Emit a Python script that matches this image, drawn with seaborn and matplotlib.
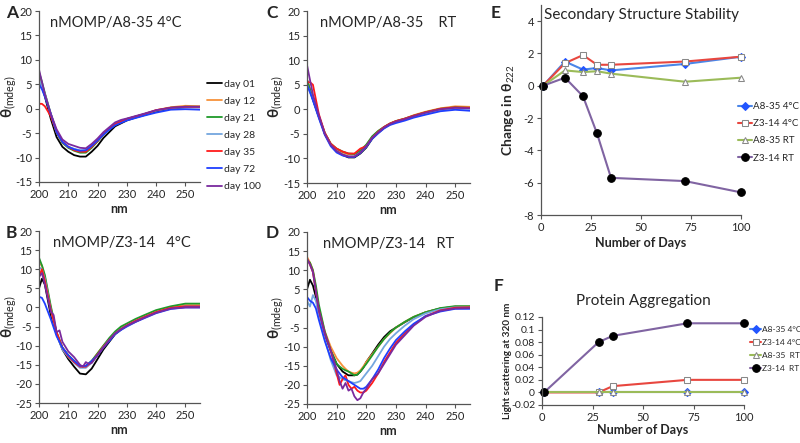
import matplotlib
matplotlib.use("Agg")
import matplotlib.pyplot as plt
import seaborn as sns

# wavelength grids (nm)
nm = [200, 201, 202, 204, 206, 208, 210, 212, 214, 216, 218, 220, 222, 224, 226, 228, 230, 233, 236, 240, 245, 250, 255]
nm_fine = [200, 201, 202, 203, 204, 206, 208, 210, 211, 212, 213, 214, 215, 216, 217, 218, 219, 220, 222, 224, 226,
           228, 230, 233, 236, 240, 245, 250, 255]
nm_b100 = [200, 201, 202, 204, 205, 206, 207, 208, 210, 212, 214, 215, 216, 217, 218, 220, 222, 224, 226, 228, 230,
           233, 236, 240, 245, 250, 255]

days = ["day 01", "day 12", "day 21", "day 28", "day 35", "day 72", "day 100"]
day_colors = ["#000000", "#f7923a", "#1f9a2a", "#74a6de", "#ff1a1a", "#1f3fff", "#7a2a9e"]

# A: nMOMP/A8-35 4°C
a_day01 = [6, 4.5, 2.5, -2, -5.8, -7.8, -8.8, -9.5, -9.8, -9.8, -8.8, -7.6, -6, -4.8, -3.6, -3, -2.4, -1.8, -1.3, -0.6, 0, 0.3, 0.3]
a_day12 = [7, 5, 3, -1.2, -4.8, -6.8, -7.8, -8.3, -8.7, -8.7, -7.8, -6.6, -5.2, -4.2, -3.2, -2.6, -2.1, -1.6, -1.1, -0.3, 0.3, 0.6, 0.5]
a_day21 = [7.5, 5.5, 3.2, -1, -4.8, -7, -8, -8.6, -9, -9, -8, -6.7, -5.3, -4.2, -3.2, -2.6, -2.1, -1.6, -1.1, -0.4, 0.2, 0.4, 0.4]
a_day28 = [6, 4.5, 3, -1, -4.5, -6.8, -7.8, -8.2, -8.5, -8.5, -7.6, -6.5, -5.2, -4.1, -3.1, -2.6, -2.1, -1.6, -1.1, -0.4, 0.1, 0.3, 0.3]
a_day35 = [1, 1, 0.5, -1.5, -4.8, -6.8, -7.8, -8.5, -8.8, -8.8, -7.8, -6.6, -5.2, -4.1, -3.1, -2.6, -2.1, -1.6, -1.1, -0.3, 0.2, 0.4, 0.4]
a_day72 = [5, 4, 2.5, -1, -4.8, -6.8, -7.8, -8.3, -8.6, -8.5, -7.6, -6.5, -5.3, -4.3, -3.4, -2.9, -2.4, -1.9, -1.4, -0.8, -0.2, -0.1, -0.2]
a_day100 = [8, 5.5, 3, -1, -4.2, -6.3, -7.2, -7.6, -8, -8.1, -7.2, -6.1, -4.8, -3.8, -2.8, -2.3, -2, -1.5, -1, -0.3, 0.2, 0.4, 0.4]

# B: nMOMP/Z3-14 4°C
b_day01 = [5, 7.5, 6, -2, -7, -11, -13.5, -15.5, -17.3, -17.5, -16, -13.5, -11, -9, -7, -5.8, -4.8, -3.7, -2.6, -1.2, -0.2, 0.3, 0.3]
b_day12 = [11.5, 11, 8, 0, -6.5, -10.5, -12.5, -14, -15.3, -15.3, -14, -12, -10, -8.3, -6.7, -5.5, -4.5, -3.3, -2.3, -1, 0, 0.6, 0.6]
b_day21 = [13, 11, 8.5, 0.5, -6.5, -10.5, -12.5, -14, -15.3, -15.3, -14, -12, -10, -8, -6.3, -5, -4.2, -3, -2, -0.7, 0.3, 1, 1]
b_day28 = [10.5, 10, 7.5, -0.5, -7, -11, -13, -14.5, -15.8, -15.8, -14.5, -12.5, -10.3, -8.5, -6.8, -5.7, -4.7, -3.5, -2.5, -1.2, -0.2, 0.3, 0.3]
b_day35 = [8, 10, 7, -0.5, -6.5, -10.5, -12.8, -14.3, -15.5, -15.5, -14.3, -12.3, -10.3, -8.5, -6.8, -5.7, -4.7, -3.5, -2.5, -1.2, -0.1, 0.3, 0.3]
b_day72 = [2.8, 2.5, 1, -3, -7.5, -10.5, -12.5, -14, -15.3, -15.3, -14, -12.5, -10.5, -8.8, -7, -5.9, -5, -3.8, -2.8, -1.5, -0.4, 0, 0]
b_day100 = [8, 9, 6, -1, -2, -6.5, -6, -9, -11.5, -13, -15, -15.5, -14.3, -14.8, -14.5, -12.5, -10.5, -8.5, -6.8, -5.7, -4.8,
            -3.7, -2.7, -1.4, -0.3, 0, 0]

# C: nMOMP/A8-35 RT
c_day01 = [6, 4, 2, -1.5, -5, -7.2, -8.5, -9.3, -9.8, -9.8, -9, -7.8, -6, -4.8, -3.8, -3, -2.5, -2, -1.4, -0.8, -0.1, 0.3, 0.3]
c_day12 = [6, 4, 2, -1.5, -4.8, -7, -8.2, -8.8, -9.2, -9.2, -8.5, -7.3, -5.6, -4.5, -3.6, -2.9, -2.4, -1.9, -1.2, -0.5, 0.2, 0.6, 0.5]
c_day21 = [6, 4, 2, -1.5, -4.8, -7, -8, -8.6, -9, -9.1, -8.4, -7.2, -5.5, -4.4, -3.6, -2.9, -2.4, -1.9, -1.3, -0.6, 0.1, 0.4, 0.3]
c_day28 = [5, 3.5, 2, -1.5, -5, -7.2, -8.5, -9.2, -9.6, -9.6, -8.8, -7.6, -5.9, -4.8, -3.8, -3.1, -2.6, -2.1, -1.5, -0.9, -0.2, 0.1, 0.1]
c_day35 = [5.5, 5.5, 5, -1, -4.8, -7, -8, -8.6, -9, -9, -8, -7.5, -5.8, -4.6, -3.6, -2.9, -2.4, -1.9, -1.3, -0.6, 0.1, 0.4, 0.3]
c_day72 = [5, 3.5, 1.8, -1.8, -5.2, -7.5, -8.8, -9.4, -9.7, -9.7, -8.9, -7.6, -6, -4.9, -3.9, -3.2, -2.8, -2.3, -1.7, -1.1, -0.4, -0.1, -0.3]
c_day100 = [9, 6, 3, -1.2, -5, -7.2, -8.5, -9.2, -9.6, -9.6, -8.8, -7.5, -5.8, -4.7, -3.7, -3, -2.5, -2, -1.4, -0.7, 0, 0.3, 0.2]

# D: nMOMP/Z3-14 RT (fine grid)
d_day01 = [5, 7.5, 6, 3, -1, -7, -11, -14.5, -15.5, -16.5, -17, -17.5, -17.5, -17.5, -17.3, -16.5, -15.5, -14, -11.8, -9.5,
           -7.5, -6, -5, -3.6, -2.3, -1, 0, 0.4, 0.4]
d_day12 = [13.5, 12, 10, 5, 0, -6, -10, -13, -14, -15, -15.8, -16.5, -16.8, -17, -16.8, -16.2, -15.2, -14, -12, -10, -8,
           -6.5, -5, -3.5, -2.2, -1, 0, 0.5, 0.5]
d_day21 = [12.5, 12, 10, 6, 1, -6, -11, -14.5, -15.2, -15.8, -16.2, -16.5, -17, -17.5, -17.3, -16.5, -15.5, -14.5, -12.3,
           -10, -8, -6.3, -5, -3.5, -2.2, -1, 0.1, 0.6, 0.6]
d_day28 = [2, 0.5, 3.5, 2, -2, -8, -13.5, -17.5, -18, -18.5, -18.8, -19, -19.3, -19.5, -19.3, -19, -18, -17, -15, -12.5,
           -10, -8, -6.5, -4.5, -2.8, -1.3, -0.2, 0.3, 0.3]
d_day35 = [13, 11.5, 9.5, 4.5, -0.5, -6.5, -11, -17, -20, -18.5, -17.5, -20, -21, -20.5, -21.5, -22, -22, -21.5, -19.5,
           -17, -14, -11.5, -9, -6.5, -4.3, -2, -0.5, 0.2, 0.3]
d_day72 = [3, 2, 1.5, 0, -3, -8.5, -13, -16, -17, -18, -18.5, -19, -19.5, -20, -20.5, -21, -21, -20.5, -18.5, -16, -13,
           -10.5, -8.3, -6, -4, -2, -0.8, -0.1, -0.1]
d_day100 = [13, 11.5, 9.5, 4.5, -0.5, -6.5, -11, -16, -19, -21, -19.5, -21.5, -21, -23, -24, -23.5, -22, -21, -18.5, -17,
            -14.5, -12, -9.5, -7, -4.5, -2.2, -0.6, 0, 0.1]

# E: change in theta222
e_days = [1, 12, 21, 28, 35, 72, 100]
e_a835_4c = [0, 1.5, 1.0, 1.1, 0.95, 1.35, 1.8]
e_z314_4c = [0, 1.4, 1.9, 1.3, 1.3, 1.5, 1.8]
e_a835_rt = [0, 0.95, 0.85, 0.9, 0.75, 0.25, 0.5]
e_z314_rt = [0, 0.5, -0.65, -2.95, -5.7, -5.9, -6.6]

# F: light scattering at 320 nm
f_days = [1, 28, 35, 72, 100]
f_a835_4c = [0, 0, 0, 0, 0]
f_z314_4c = [0, 0, 0.01, 0.02, 0.02]
f_a835_rt = [0, 0, 0, 0, 0]
f_z314_rt = [0, 0.08, 0.09, 0.11, 0.11]

sns.set_style("ticks")
plt.rcParams["font.family"] = ["Lato", "DejaVu Sans"]
plt.rcParams["mathtext.fontset"] = "custom"
plt.rcParams["mathtext.rm"] = "Lato"
plt.rcParams["mathtext.bf"] = "Lato:bold"
plt.rcParams["axes.unicode_minus"] = False

fig = plt.figure(figsize=(8, 4.43), dpi=100)


def px_axes(left, top, right, bottom):
    W, H = 800, 443
    return fig.add_axes([left / W, 1 - bottom / H, (right - left) / W, (bottom - top) / H])


def style_axes(ax):
    sns.despine(ax=ax)
    ax.tick_params(axis="both", labelsize=8, length=3, width=0.8, pad=2, color="#555555")
    for s in ("left", "bottom"):
        ax.spines[s].set_color("#555555")
        ax.spines[s].set_linewidth(0.9)


def cd_panel(ax, curves, ylim, title, title_x, label_x):
    for (x, y), lab, col in zip(curves, days, day_colors):
        sns.lineplot(x=x, y=y, ax=ax, color=col, lw=1.3, label=lab, sort=False, estimator=None, legend=False)
    ax.set_xlim(200, 255)
    ax.set_ylim(*ylim)
    ax.set_xticks([200, 210, 220, 230, 240, 250])
    ax.set_yticks(range(ylim[0], ylim[1] + 1, 5))
    style_axes(ax)
    ax.set_xlabel("nm", fontsize=9, fontweight="bold", labelpad=2)
    ax.set_ylabel(r"θ$_{\rm (mdeg)}$", fontsize=11, fontweight="bold")
    ax.yaxis.set_label_coords(label_x, 0.5)
    ax.text(title_x, 0.97, title, transform=ax.transAxes, fontsize=10.5, va="top", ha="left")


axA = px_axes(39, 11, 200, 182)
cd_panel(axA, [(nm, a_day01), (nm, a_day12), (nm, a_day21), (nm, a_day28), (nm, a_day35), (nm, a_day72),
               (nm, a_day100)], (-15, 20), "nMOMP/A8-35 4°C", 0.07, -0.125)
h, l = axA.get_legend_handles_labels()
axA.legend(h, l, loc="upper left", bbox_to_anchor=(1.02, 0.625), frameon=False, fontsize=7.5,
           handlelength=1.4, handletextpad=0.2, labelspacing=0.75, borderaxespad=0)

axB = px_axes(39, 231, 200, 403)
cd_panel(axB, [(nm, b_day01), (nm, b_day12), (nm, b_day21), (nm, b_day28), (nm, b_day35), (nm, b_day72),
               (nm_b100, b_day100)], (-25, 20), "nMOMP/Z3-14   4°C", 0.09, -0.125)

axC = px_axes(307, 11, 470, 183)
cd_panel(axC, [(nm, c_day01), (nm, c_day12), (nm, c_day21), (nm, c_day28), (nm, c_day35), (nm, c_day72),
               (nm, c_day100)], (-15, 20), "nMOMP/A8-35    RT", 0.08, -0.13)

axD = px_axes(307, 232, 470, 404)
cd_panel(axD, [(nm_fine, d_day01), (nm_fine, d_day12), (nm_fine, d_day21), (nm_fine, d_day28),
               (nm_fine, d_day35), (nm_fine, d_day72), (nm_fine, d_day100)], (-25, 20), "nMOMP/Z3-14   RT", 0.1, -0.13)

series_style = [
    ("A8-35 4°C", "#4a86e8", dict(marker="D", markersize=4.5, markerfacecolor="#2255ff", markeredgecolor="#2255ff")),
    ("Z3-14 4°C", "#e8473f", dict(marker="s", markersize=5, markerfacecolor="white", markeredgecolor="#888888")),
    ("A8-35 RT", "#9bbb59", dict(marker="^", markersize=5, markerfacecolor="white", markeredgecolor="#888888")),
    ("Z3-14 RT", "#8064a2", dict(marker="o", markersize=5.5, markerfacecolor="black", markeredgecolor="black")),
]

# E
axE = px_axes(541, 5, 741, 215)
for vals, (lab, col, mk) in zip([e_a835_4c, e_z314_4c, e_a835_rt, e_z314_rt], series_style):
    sns.lineplot(x=e_days, y=vals, ax=axE, color=col, lw=1.5, label=lab, legend=False, clip_on=False, **mk)
axE.set_xlim(0, 100)
axE.set_ylim(-8, 5)
axE.set_xticks([0, 25, 50, 75, 100])
axE.set_yticks([-8, -6, -4, -2, 0, 2, 4])
style_axes(axE)
axE.set_xlabel("Number of Days", fontsize=9, fontweight="bold", labelpad=3)
axE.set_ylabel(r"Change in θ$_{\rm 222}$", fontsize=10, fontweight="bold")
axE.yaxis.set_label_coords(-0.12, 0.5)
axE.text(0.5, 0.985, "Secondary Structure Stability", transform=axE.transAxes, fontsize=11, ha="center", va="top")
h, l = axE.get_legend_handles_labels()
axE.legend(h, l, loc="upper left", bbox_to_anchor=(0.965, 0.557), frameon=False, fontsize=7,
           handlelength=1.5, handletextpad=0.1, labelspacing=0.85, borderaxespad=0)

# F
axF = px_axes(542, 317, 744, 405)
for vals, (lab, col, mk) in zip([f_a835_4c, f_z314_4c, f_a835_rt, f_z314_rt], series_style):
    sns.lineplot(x=f_days, y=vals, ax=axF, color=col, lw=1.5, label=lab, legend=False, clip_on=False, **mk)
axF.set_xlim(0, 100)
axF.set_ylim(-0.02, 0.12)
axF.set_xticks([0, 25, 50, 75, 100])
axF.set_yticks([-0.02, 0, 0.02, 0.04, 0.06, 0.08, 0.1, 0.12])
axF.set_yticklabels(["-0.02", "0", "0.02", "0.04", "0.06", "0.08", "0.1", "0.12"])
style_axes(axF)
axF.tick_params(axis="y", labelsize=7.5)
axF.set_xlabel("Number of Days", fontsize=9, fontweight="bold", labelpad=1)
axF.set_ylabel("Light scattering at 320 nm", fontsize=7.2, fontweight="bold")
axF.yaxis.set_label_coords(-0.15, 0.5)
axF.text(0.5, 1.1, "Protein Aggregation", transform=axF.transAxes, fontsize=11, ha="center", va="bottom")
h, l = axF.get_legend_handles_labels()
l = ["A8-35 4°C", "Z3-14 4°C", "A8-35  RT", "Z3-14  RT"]
axF.legend(h, l, loc="upper left", bbox_to_anchor=(1.015, 0.94), frameon=False, fontsize=6,
           handlelength=1.3, handletextpad=0.1, labelspacing=0.75, borderaxespad=0)

# panel letters
for letter, x, y in [("A", 6, 5), ("B", 6, 225), ("C", 266, 5), ("D", 266, 225), ("E", 491, 5), ("F", 494, 278)]:
    fig.text(x / 800, 1 - y / 443, letter, fontsize=12.5, fontweight="bold", va="top", ha="left")

fig.savefig("out.png", dpi=100)
